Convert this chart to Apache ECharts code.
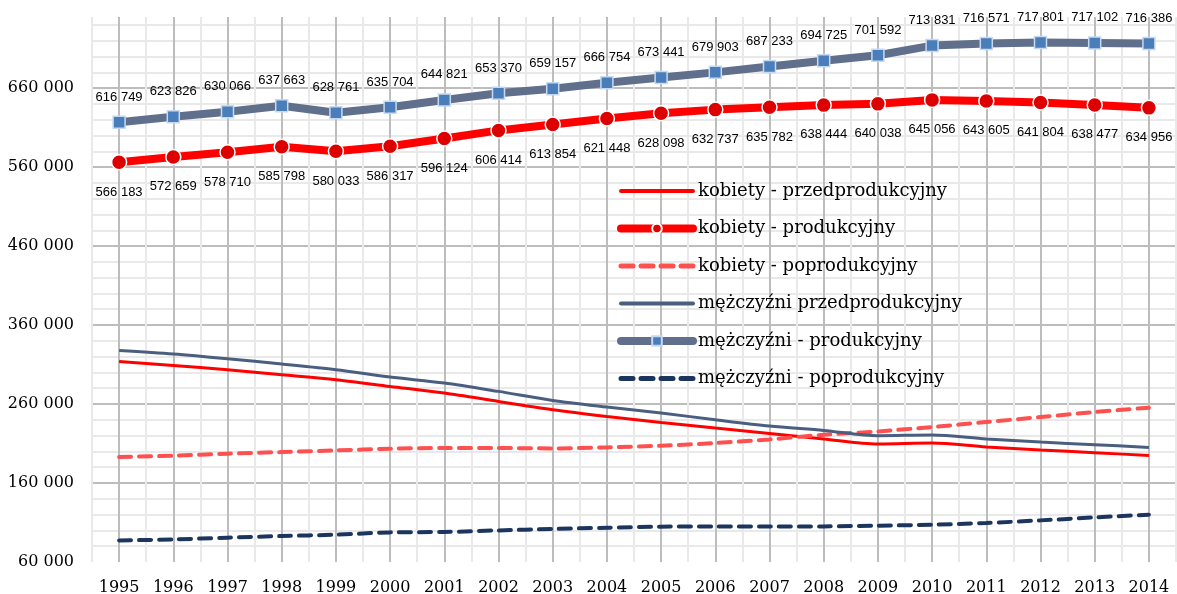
<!DOCTYPE html>
<html lang="pl">
<head>
    <meta charset="UTF-8">
    <script src="https://cdn.jsdelivr.net/npm/echarts@6.0.0/dist/echarts.min.js"></script>
    <title>Ludność wg ekonomicznych grup wieku</title>
    <style>
      html, body { margin: 0; padding: 0; background: #fff; }
    </style>
</head>
<body>
    <div id="main" style="width: 1177px;height:594px;"></div>
    <script type="text/javascript">
      // lata
      var years = [1995, 1996, 1997, 1998, 1999, 2000, 2001, 2002, 2003, 2004,
                   2005, 2006, 2007, 2008, 2009, 2010, 2011, 2012, 2013, 2014];

      // dane
      var kobietyPrzed = [313900, 308900, 303400, 297100, 290800, 282300, 273900, 263300, 252800, 244300,
                          236700, 229600, 222800, 215700, 209400, 210600, 205600, 201800, 198400, 194900];
      var kobietyProd = [566183, 572659, 578710, 585798, 580033, 586317, 596124, 606414, 613854, 621448,
                         628098, 632737, 635782, 638444, 640038, 645056, 643605, 641804, 638477, 634956];
      var kobietyPo = [192900, 194600, 197100, 199200, 201300, 203400, 204300, 204300, 203800, 205100,
                       207200, 210600, 215200, 221100, 225300, 230900, 237200, 243500, 249900, 255300];
      var mezczyzniPrzed = [327800, 323300, 317300, 310600, 303400, 294200, 286600, 276000, 264600, 256200,
                            248600, 240100, 232200, 226600, 219900, 220800, 215700, 211900, 208500, 205100];
      var mezczyzniProd = [616749, 623826, 630066, 637663, 628761, 635704, 644821, 653370, 659157, 666754,
                           673441, 679903, 687233, 694725, 701592, 713831, 716571, 717801, 717102, 716386];
      var mezczyzniPo = [87300, 88600, 90800, 92900, 94600, 97500, 98000, 100000, 101800, 103400,
                         104700, 105100, 105100, 105100, 106000, 107200, 109400, 112700, 116500, 119900];

      var myChart = echarts.init(document.getElementById('main'));

      function fmt(v) {
        return String(Math.round(v)).replace(/\B(?=(\d{3})+(?!\d))/g, ' ');
      }
      function pairs(arr) {
        return years.map(function (y, i) { return [y, arr[i]]; });
      }

      var serif = 'DejaVu Serif';
      var sans = 'Liberation Sans';
      var noMarker = { opacity: 0, borderWidth: 0 };

      var option = {
        animation: false,
        grid: { left: 92, right: 1, top: 17, bottom: 32, outerBoundsMode: 'none', containLabel: false },
        legend: {
          orient: 'vertical',
          left: 617,
          top: 181,
          padding: 0,
          itemWidth: 72,
          itemHeight: 12,
          itemGap: 17.5,
          textStyle: { fontFamily: serif, fontSize: 18, lineHeight: 20, color: '#000' },
          data: [
            { name: 'kobiety - przedprodukcyjny', itemStyle: noMarker, lineStyle: { width: 4, cap: 'round' } },
            { name: 'kobiety - produkcyjny', lineStyle: { width: 8, cap: 'round' } },
            { name: 'kobiety - poprodukcyjny', itemStyle: noMarker, lineStyle: { width: 5, cap: 'round' } },
            { name: 'mężczyźni przedprodukcyjny', itemStyle: noMarker, lineStyle: { width: 4, cap: 'round' } },
            { name: 'mężczyźni - produkcyjny', lineStyle: { width: 8, cap: 'round' } },
            { name: 'mężczyźni - poprodukcyjny', itemStyle: noMarker, lineStyle: { width: 5, cap: 'round' } }
          ]
        },
        xAxis: {
          type: 'value',
          min: 1994.5,
          max: 2014.5,
          interval: 0.5,
          axisLine: { show: false },
          axisTick: { show: false },
          axisLabel: {
            margin: 18,
            fontFamily: serif, fontSize: 16, color: '#000',
            formatter: function (v) {
              return Math.abs(v - Math.round(v)) < 1e-6 ? String(Math.round(v)) : '';
            }
          },
          splitLine: { show: true, lineStyle: { color: ['#e9e9e9', '#bdbdbd'], width: 2 } }
        },
        yAxis: {
          type: 'value',
          min: 60000,
          max: 750000,
          interval: 20000,
          axisLine: { show: false },
          axisTick: { show: false },
          axisLabel: {
            margin: 18,
            fontFamily: serif, fontSize: 16, color: '#000',
            formatter: function (v) {
              return (Math.round(v) - 60000) % 100000 === 0 ? fmt(v) : '';
            }
          },
          splitLine: {
            show: true,
            showMinLine: false,
            showMaxLine: false,
            lineStyle: { color: ['#e9e9e9', '#e9e9e9', '#e9e9e9', '#e9e9e9', '#bdbdbd'], width: 2 }
          }
        },
        series: [
          {
            name: 'kobiety - przedprodukcyjny',
            type: 'line',
            smooth: 0.3,
            showSymbol: false,
            symbol: 'none',
            lineStyle: { color: '#ff0000', width: 3 },
            itemStyle: { color: '#ff0000' },
            data: pairs(kobietyPrzed)
          },
          {
            name: 'kobiety - produkcyjny',
            type: 'line',
            symbol: 'circle',
            symbolSize: 15,
            lineStyle: { color: '#ff0000', width: 8 },
            itemStyle: { color: '#dc0000', borderColor: '#ffffff', borderWidth: 1.5 },
            label: {
              show: true, position: 'bottom', distance: 15,
              fontFamily: sans, fontSize: 13, color: '#000',
              formatter: function (p) { return fmt(p.value[1]); }
            },
            z: 3,
            data: pairs(kobietyProd)
          },
          {
            name: 'kobiety - poprodukcyjny',
            type: 'line',
            smooth: 0.3,
            showSymbol: false,
            symbol: 'none',
            lineStyle: { color: '#ff5050', width: 4, type: [12, 8], cap: 'round' },
            itemStyle: { color: '#ff5050' },
            data: pairs(kobietyPo)
          },
          {
            name: 'mężczyźni przedprodukcyjny',
            type: 'line',
            smooth: 0.3,
            showSymbol: false,
            symbol: 'none',
            lineStyle: { color: '#4a5f80', width: 3 },
            itemStyle: { color: '#4a5f80' },
            data: pairs(mezczyzniPrzed)
          },
          {
            name: 'mężczyźni - produkcyjny',
            type: 'line',
            symbol: 'rect',
            symbolSize: 12,
            lineStyle: { color: '#5f6f8c', width: 8 },
            itemStyle: { color: '#4a7ebb', borderColor: '#c6d9f1', borderWidth: 1.5 },
            label: {
              show: true, position: 'top', distance: 12,
              fontFamily: sans, fontSize: 13, color: '#000',
              formatter: function (p) { return fmt(p.value[1]); }
            },
            z: 3,
            data: pairs(mezczyzniProd)
          },
          {
            name: 'mężczyźni - poprodukcyjny',
            type: 'line',
            smooth: 0.3,
            showSymbol: false,
            symbol: 'none',
            lineStyle: { color: '#1c355e', width: 4, type: [12, 8], cap: 'round' },
            itemStyle: { color: '#1c355e' },
            data: pairs(mezczyzniPo)
          }
        ]
      };

      myChart.setOption(option);
    </script>
</body>
</html>
